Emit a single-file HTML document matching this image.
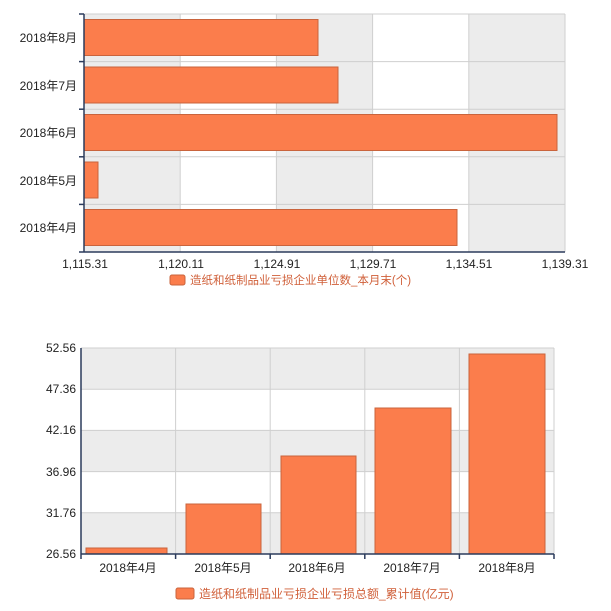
<!DOCTYPE html>
<html><head><meta charset="utf-8"><style>
body{margin:0;background:#fff;width:611px;height:606px;overflow:hidden}
svg text{font-family:"Liberation Sans","Noto Sans CJK SC",sans-serif;font-size:12px;fill:#222}
</style></head><body>
<svg width="611" height="606" xmlns="http://www.w3.org/2000/svg">
<!-- top chart -->
<g>
<rect x="84" y="14" width="481" height="238" fill="#fff"/>
<rect x="84" y="14" width="96.2" height="238" fill="#ececec"/>
<rect x="276.4" y="14" width="96.2" height="238" fill="#ececec"/>
<rect x="468.8" y="14" width="96.2" height="238" fill="#ececec"/>
<g stroke="#cfcfcf" stroke-width="1">
<line x1="180.2" y1="14" x2="180.2" y2="252"/><line x1="276.4" y1="14" x2="276.4" y2="252"/>
<line x1="372.6" y1="14" x2="372.6" y2="252"/><line x1="468.8" y1="14" x2="468.8" y2="252"/>
<line x1="565" y1="14" x2="565" y2="252"/>
<line x1="84" y1="14" x2="565" y2="14"/><line x1="84" y1="61.6" x2="565" y2="61.6"/>
<line x1="84" y1="109.2" x2="565" y2="109.2"/><line x1="84" y1="156.8" x2="565" y2="156.8"/>
<line x1="84" y1="204.4" x2="565" y2="204.4"/>
</g>
<g fill="#fb7d4c" stroke="#c9643d" stroke-width="1">
<rect x="84" y="19.5" width="234" height="36"/>
<rect x="84" y="67" width="254" height="36"/>
<rect x="84" y="114.5" width="473" height="36"/>
<rect x="84" y="162" width="14" height="36"/>
<rect x="84" y="209.5" width="373" height="36"/>
</g>
<g stroke="#2b3b5c" stroke-width="1.5">
<line x1="84" y1="14" x2="84" y2="252"/><line x1="84" y1="252" x2="565" y2="252"/>
<line x1="79" y1="14" x2="84" y2="14"/><line x1="79" y1="61.6" x2="84" y2="61.6"/><line x1="79" y1="109.2" x2="84" y2="109.2"/>
<line x1="79" y1="156.8" x2="84" y2="156.8"/><line x1="79" y1="204.4" x2="84" y2="204.4"/><line x1="79" y1="252" x2="84" y2="252"/>
</g>
<g text-anchor="end">
<text x="77" y="42">2018年8月</text><text x="77" y="90">2018年7月</text><text x="77" y="137">2018年6月</text>
<text x="77" y="185">2018年5月</text><text x="77" y="232">2018年4月</text>
</g>
<g text-anchor="middle">
<text x="85" y="268">1,115.31</text><text x="181" y="268">1,120.11</text><text x="277" y="268">1,124.91</text>
<text x="373" y="268">1,129.71</text><text x="469" y="268">1,134.51</text><text x="565" y="268">1,139.31</text>
</g>
<rect x="170" y="275" width="15" height="10" rx="2" fill="#fb7d4c" stroke="#c9643d"/>
<text x="190" y="284" style="fill:#d0603a;font-size:11.5px">造纸和纸制品业亏损企业单位数_本月末(个)</text>
</g>
<!-- bottom chart -->
<g>
<rect x="81" y="348" width="473" height="206" fill="#fff"/>
<rect x="81" y="348" width="473" height="41.2" fill="#ececec"/>
<rect x="81" y="430.4" width="473" height="41.2" fill="#ececec"/>
<rect x="81" y="512.8" width="473" height="41.2" fill="#ececec"/>
<g stroke="#cfcfcf" stroke-width="1">
<line x1="81" y1="348" x2="554" y2="348"/><line x1="81" y1="389.2" x2="554" y2="389.2"/>
<line x1="81" y1="430.4" x2="554" y2="430.4"/><line x1="81" y1="471.6" x2="554" y2="471.6"/>
<line x1="81" y1="512.8" x2="554" y2="512.8"/>
<line x1="175.6" y1="348" x2="175.6" y2="554"/><line x1="270.2" y1="348" x2="270.2" y2="554"/>
<line x1="364.8" y1="348" x2="364.8" y2="554"/><line x1="459.4" y1="348" x2="459.4" y2="554"/>
<line x1="554" y1="348" x2="554" y2="554"/>
</g>
<g fill="#fb7d4c" stroke="#c9643d" stroke-width="1">
<rect x="86" y="548" width="81" height="6"/>
<rect x="186" y="504" width="75" height="50"/>
<rect x="281" y="456" width="75" height="98"/>
<rect x="375" y="408" width="76" height="146"/>
<rect x="469" y="354" width="76" height="200"/>
</g>
<g stroke="#2b3b5c" stroke-width="1.5">
<line x1="81" y1="348" x2="81" y2="554"/><line x1="81" y1="554" x2="554" y2="554"/>
<line x1="81" y1="554" x2="81" y2="559"/><line x1="175.6" y1="554" x2="175.6" y2="559"/><line x1="270.2" y1="554" x2="270.2" y2="559"/>
<line x1="364.8" y1="554" x2="364.8" y2="559"/><line x1="459.4" y1="554" x2="459.4" y2="559"/><line x1="554" y1="554" x2="554" y2="559"/>
</g>
<g text-anchor="end">
<text x="76" y="352">52.56</text><text x="76" y="393">47.36</text><text x="76" y="434">42.16</text>
<text x="76" y="476">36.96</text><text x="76" y="517">31.76</text><text x="76" y="558">26.56</text>
</g>
<g text-anchor="middle">
<text x="128" y="572">2018年4月</text><text x="223" y="572">2018年5月</text><text x="317" y="572">2018年6月</text>
<text x="412" y="572">2018年7月</text><text x="507" y="572">2018年8月</text>
</g>
<rect x="176" y="588" width="18" height="11" rx="2" fill="#fb7d4c" stroke="#c9643d"/>
<text x="199" y="598" style="fill:#d0603a;font-size:12px">造纸和纸制品业亏损企业亏损总额_累计值(亿元)</text>
</g>
</svg>
</body></html>
